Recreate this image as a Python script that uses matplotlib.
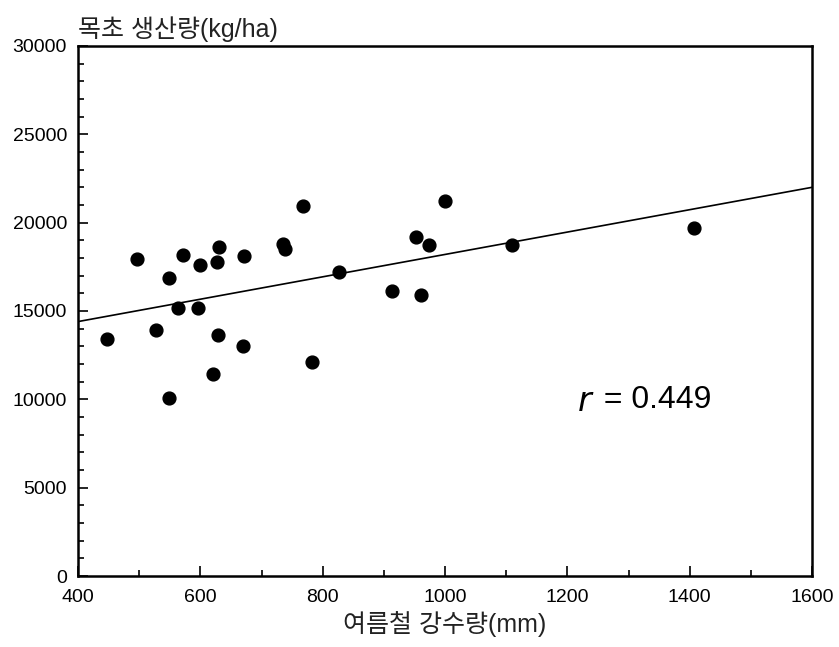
import numpy as np
import matplotlib
matplotlib.use('Agg')
import matplotlib.pyplot as plt
from matplotlib.ticker import MultipleLocator

# Data
rain_mm = [447, 497, 549, 528, 548, 572, 564, 596, 600, 630, 627, 629, 621,
           672, 670, 735, 739, 767, 783, 827, 914, 961, 953, 974, 1000, 1109, 1407]
yield_kg = [13400, 17950, 16850, 13900, 10100, 18150, 15150, 15150, 17580, 18640,
            17750, 13640, 11430, 18130, 13020, 18770, 18500, 20940, 12130, 17190,
            16130, 15890, 19170, 18730, 21220, 18730, 19710]
fit_x = [400, 1600]
fit_y = [14400, 22000]

plt.rcParams['font.family'] = ['Liberation Sans', 'Noto Sans CJK KR']

fig = plt.figure(figsize=(8.39, 6.47), dpi=100, facecolor='white')
ax = fig.add_axes([0.093, 0.1097, 0.875, 0.8193])

ax.plot(fit_x, fit_y, color='black', lw=1.2, zorder=2)
ax.scatter(rain_mm, yield_kg, s=85, color='black', zorder=3)

ax.set_xlim(400, 1600)
ax.set_ylim(0, 30000)
ax.xaxis.set_major_locator(MultipleLocator(200))
ax.xaxis.set_minor_locator(MultipleLocator(100))
ax.yaxis.set_major_locator(MultipleLocator(5000))
ax.yaxis.set_minor_locator(MultipleLocator(1000))
ax.tick_params(which='both', direction='in', width=1.2, labelsize=14)
ax.tick_params(which='major', length=7)
ax.tick_params(which='minor', length=4)
ax.tick_params(axis='x', pad=9)
ax.tick_params(axis='y', pad=8)
for s in ax.spines.values():
    s.set_linewidth(1.8)

ax.text(0.0, 1.008, '목초 생산량(kg/ha)', transform=ax.transAxes, ha='left', va='bottom',
        fontsize=18, color='#222222')
ax.set_xlabel('여름철 강수량(mm)', fontsize=18, labelpad=4, color='#222222')

ax.text(1215, 9800, r'$r$', fontsize=24, ha='left', va='center')
ax.text(1245, 9950, ' = 0.449', fontsize=23, ha='left', va='center')

fig.savefig('out.png', dpi=100)
